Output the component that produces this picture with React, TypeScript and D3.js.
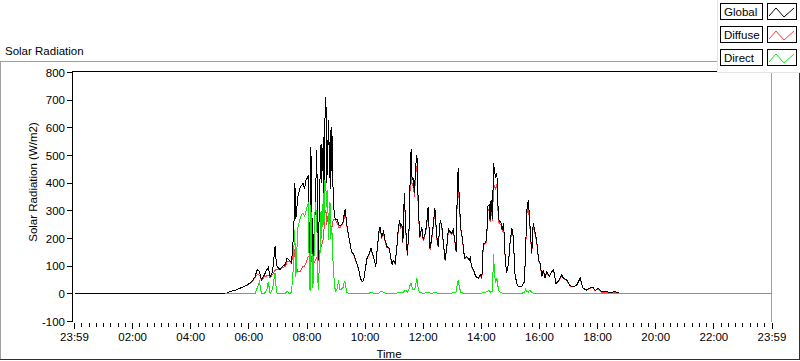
import React from 'react';
import * as d3 from 'd3';

// minutes since midnight (axis runs from 23:59 the day before to 23:59)
const times = [0, 311, 321, 335, 348, 359, 366, 373, 377, 382, 386, 391, 397, 400, 404, 409, 414, 417, 421, 424, 430, 435, 439, 443, 448, 452, 454, 455, 457, 461, 466, 470, 472, 475, 478, 481, 483, 485, 487, 488, 492, 494, 497, 500, 503, 507, 509, 510, 514, 515, 517, 519, 521, 522, 525, 526, 528, 529, 531, 533, 534, 537, 539, 543, 545, 548, 554, 557, 559, 562, 565, 568, 572, 577, 583, 588, 590, 594, 597, 600, 604, 609, 612, 616, 620, 622, 625, 629, 631, 634, 638, 641, 645, 650, 653, 656, 658, 662, 665, 668, 671, 673, 676, 678, 681, 684, 687, 691, 693, 695, 697, 699, 702, 704, 707, 710, 713, 717, 720, 724, 727, 730, 734, 737, 741, 744, 748, 751, 755, 758, 761, 765, 768, 772, 775, 779, 782, 786, 788, 790, 792, 795, 798, 801, 804, 806, 810, 815, 817, 820, 824, 828, 834, 838, 841, 844, 847, 851, 853, 856, 858, 860, 863, 865, 867, 869, 872, 874, 876, 881, 883, 886, 889, 892, 896, 899, 903, 906, 909, 913, 916, 923, 929, 931, 934, 937, 940, 944, 947, 951, 954, 958, 961, 965, 968, 971, 975, 980, 985, 989, 994, 999, 1006, 1009, 1016, 1023, 1030, 1037, 1044, 1047, 1050, 1057, 1063, 1070, 1075, 1081, 1088, 1099, 1106, 1116, 1126, 1137, 1143, 1440];

const globalRad = [0, 0, 8, 15, 25, 35, 45, 62, 88, 80, 50, 65, 87, 95, 63, 80, 171, 105, 93, 88, 100, 106, 130, 123, 112, 207, 300, 400, 270, 351, 387, 395, 399, 380, 411, 420, 429, 135, 200, 531, 98, 200, 300, 519, 123, 423, 543, 400, 567, 350, 628, 710, 400, 495, 628, 420, 592, 380, 604, 500, 339, 280, 267, 267, 250, 245, 255, 290, 305, 250, 220, 190, 153, 140, 110, 80, 57, 44, 50, 87, 129, 147, 165, 141, 117, 98, 165, 231, 243, 207, 225, 195, 171, 165, 129, 105, 120, 111, 159, 225, 267, 243, 250, 189, 363, 231, 141, 243, 423, 525, 411, 420, 363, 459, 500, 303, 207, 243, 195, 219, 249, 315, 165, 195, 255, 310, 207, 171, 267, 250, 195, 123, 159, 235, 225, 219, 231, 183, 153, 351, 453, 315, 231, 200, 147, 129, 135, 122, 130, 98, 87, 63, 57, 69, 57, 183, 183, 195, 315, 321, 267, 339, 270, 471, 447, 423, 435, 327, 267, 255, 231, 255, 135, 75, 111, 183, 237, 207, 75, 38, 26, 26, 44, 147, 303, 339, 255, 147, 255, 220, 195, 123, 111, 63, 87, 57, 80, 63, 80, 87, 38, 45, 68, 57, 51, 29, 26, 32, 57, 38, 20, 14, 20, 24, 12, 20, 8, 8, 5, 8, 2, 1, 0, 0];

const diffuseRad = [null, 0, 8, 15, 25, 33, 43, 58, 70, 68, 48, 60, 65, 68, 58, 70, 85, 88, 90, 86, 95, 100, 115, 118, 110, 150, 160, 140, 100, 82, 80, 95, 100, 100, 110, 129, 135, 130, 140, 140, 95, 110, 120, 129, 120, 160, 170, 175, 201, 230, 290, 303, 250, 280, 249, 260, 267, 250, 237, 250, 267, 270, 265, 255, 240, 240, 252, 275, 300, 248, 218, 188, 151, 138, 108, 78, 56, 43, 49, 85, 126, 144, 160, 138, 115, 96, 160, 225, 235, 202, 218, 190, 168, 162, 127, 103, 118, 109, 156, 220, 260, 238, 244, 185, 350, 226, 138, 235, 400, 470, 390, 400, 350, 430, 460, 290, 203, 238, 190, 214, 243, 305, 160, 190, 248, 300, 200, 168, 260, 244, 190, 120, 155, 228, 220, 214, 225, 180, 150, 330, 415, 300, 226, 196, 144, 127, 132, 120, 128, 96, 85, 62, 56, 67, 56, 178, 178, 190, 300, 305, 260, 320, 262, 400, 390, 380, 395, 310, 258, 248, 225, 248, 132, 74, 108, 178, 230, 202, 74, 37, 26, 26, 43, 140, 290, 320, 245, 143, 245, 214, 190, 120, 108, 62, 85, 56, 78, 62, 78, 85, 37, 44, 66, 56, 50, 28, 25, 31, 55, 37, 19, 13, 19, 23, 11, 19, 6, 5, 3, 5, 1, 0, 0, null];

const directRad = [null, 0, 0, 0, 0, 0, 0, 0, 20, 44, 2, 0, 14, 44, 0, 20, 75, 5, 0, 0, 0, 0, 10, 0, 5, 100, 230, 200, 60, 240, 275, 290, 290, 280, 300, 320, 330, 20, 10, 320, 20, 100, 330, 280, 15, 150, 300, 200, 363, 250, 411, 380, 315, 375, 195, 330, 327, 200, 243, 171, 100, 26, 10, 20, 50, 14, 20, 45, 41, 5, 3, 3, 2, 2, 2, 2, 2, 2, 2, 2, 3, 3, 6, 3, 2, 2, 3, 3, 8, 8, 6, 3, 3, 2, 2, 2, 2, 3, 3, 5, 5, 5, 5, 4, 10, 14, 6, 20, 32, 38, 25, 15, 15, 30, 56, 15, 5, 3, 3, 3, 4, 4, 3, 3, 3, 4, 3, 3, 3, 3, 3, 3, 3, 3, 3, 3, 4, 5, 8, 30, 50, 20, 5, 3, 3, 3, 3, 2, 2, 2, 2, 2, 2, 2, 2, 5, 5, 8, 10, 12, 5, 8, 10, 144, 80, 40, 56, 30, 10, 4, 3, 3, 3, 2, 2, 3, 3, 3, 2, 2, 2, 2, 5, 17, 8, 6, 14, 6, 3, 3, 3, 3, 2, 2, 2, 2, 2, 2, 2, 2, 2, 2, 2, 2, 2, 2, 2, 2, 2, 2, 2, 2, 2, 2, 2, 2, 2, 2, 1, 1, 1, 1, 0, 0, null];

const xTickValues = [0, 120, 240, 360, 480, 600, 720, 840, 960, 1080, 1200, 1320, 1440];
const xTickLabels = ['23:59', '02:00', '04:00', '06:00', '08:00', '10:00', '12:00', '14:00', '16:00', '18:00', '20:00', '22:00', '23:59'];
const yTickValues = [-100, 0, 100, 200, 300, 400, 500, 600, 700, 800];

const seriesNames = ['Global', 'Diffuse', 'Direct'];
const seriesColors = ['#000000', '#ff3c3c', '#13e613'];

const FONT = '"Liberation Sans", Arial, sans-serif';

export default function App() {
  const W = 800;
  const H = 361;
  const x = d3.scaleLinear().domain([0, 1440]).range([74.5, 772]);
  const y = d3.scaleLinear().domain([-100, 800]).range([321.5, 72.5]);

  const mk = (vals: (number | null)[]) =>
    d3
      .line<number>()
      .defined((_, i) => vals[i] !== null && vals[i] !== undefined)
      .x((_, i) => x(times[i]))
      .y((_, i) => y(vals[i] as number))(times.map((t) => t)) || '';

  const pathGlobal = mk(globalRad);
  const pathDiffuse = mk(diffuseRad);
  const pathDirect = mk(directRad);

  const minorTicks = d3.range(0, 1441, 15).filter((v) => v % 120 !== 0);

  const legendTops = [3, 26, 49];

  return (
    <svg
      width={W}
      height={H}
      style={{ position: 'absolute', left: 0, top: 0, background: '#fff' }}
      fontFamily={FONT}
    >
      <rect x={0} y={0} width={W} height={H} fill="#ffffff" />
      {/* panel frame */}
      <line x1={0} x2={800} y1={61.5} y2={61.5} stroke="#a0a0a0" shapeRendering="crispEdges" />
      <line x1={0.5} x2={0.5} y1={61} y2={360} stroke="#a0a0a0" shapeRendering="crispEdges" />
      <line x1={0} x2={800} y1={359.5} y2={359.5} stroke="#303030" shapeRendering="crispEdges" />
      <line x1={799.5} x2={799.5} y1={61} y2={360} stroke="#303030" shapeRendering="crispEdges" />

      <text x={5} y={55} fontSize={11.5} fill="#000">Solar Radiation</text>

      {/* plot border */}
      <line x1={72} x2={772} y1={71.5} y2={71.5} stroke="#000" shapeRendering="crispEdges" />
      <line x1={72.5} x2={72.5} y1={71} y2={322} stroke="#000" shapeRendering="crispEdges" />
      <line x1={771.5} x2={771.5} y1={72} y2={322} stroke="#a0a0a0" shapeRendering="crispEdges" />

      <defs>
        <clipPath id="plotClip">
          <rect x={73} y={72} width={699} height={250} />
        </clipPath>
      </defs>

      <g clipPath="url(#plotClip)" fill="none" strokeWidth={1} shapeRendering="crispEdges">
        <path d={pathDiffuse} stroke={seriesColors[1]} />
        <path d={pathGlobal} stroke={seriesColors[0]} />
        <path d={pathDirect} stroke={seriesColors[2]} />
      </g>

      {/* y axis ticks */}
      {yTickValues.map((v) => (
        <g key={v}>
          <line x1={67} x2={72} y1={Math.floor(y(v)) + 0.5} y2={Math.floor(y(v)) + 0.5} stroke="#000" shapeRendering="crispEdges" />
          <text x={65} y={y(v) + 4} textAnchor="end" fontSize={11.5} fill="#000">
            {v}
          </text>
        </g>
      ))}

      {/* x axis ticks */}
      {minorTicks.map((v) => (
        <line key={'m' + v} x1={Math.floor(x(v)) + 0.5} x2={Math.floor(x(v)) + 0.5} y1={323} y2={327} stroke="#000" shapeRendering="crispEdges" />
      ))}
      {xTickValues.map((v, i) => (
        <g key={'M' + v}>
          <line x1={Math.floor(x(v)) + 0.5} x2={Math.floor(x(v)) + 0.5} y1={323} y2={329} stroke="#000" shapeRendering="crispEdges" />
          <text x={x(v)} y={341} textAnchor="middle" fontSize={11.5} fill="#000">
            {xTickLabels[i]}
          </text>
        </g>
      ))}

      <text x={389} y={358} textAnchor="middle" fontSize={11.5} fill="#000">Time</text>
      <text transform="translate(37,182) rotate(-90)" textAnchor="middle" fontSize={11.5} fill="#000">
        Solar Radiation (W/m2)
      </text>

      {/* legend */}
      <rect x={717.5} y={-1} width={84} height={73} fill="#ffffff" stroke="#e4e4e4" shapeRendering="crispEdges" />
      {seriesNames.map((name, i) => {
        const t = legendTops[i];
        return (
          <g key={name}>
            <rect x={720.5} y={t + 0.5} width={42} height={16} fill="#fff" stroke="#000" shapeRendering="crispEdges" />
            <text x={724} y={t + 13} fontSize={11.5} fill="#000">{name}</text>
            <rect x={767.5} y={t + 0.5} width={29} height={16} fill="#fff" stroke="#000" shapeRendering="crispEdges" />
            <polyline
              points={`${769},${t + 13} ${776},${t + 5} ${784},${t + 14} ${794},${t + 5}`}
              fill="none"
              stroke={seriesColors[i]}
            />
          </g>
        );
      })}
    </svg>
  );
}
